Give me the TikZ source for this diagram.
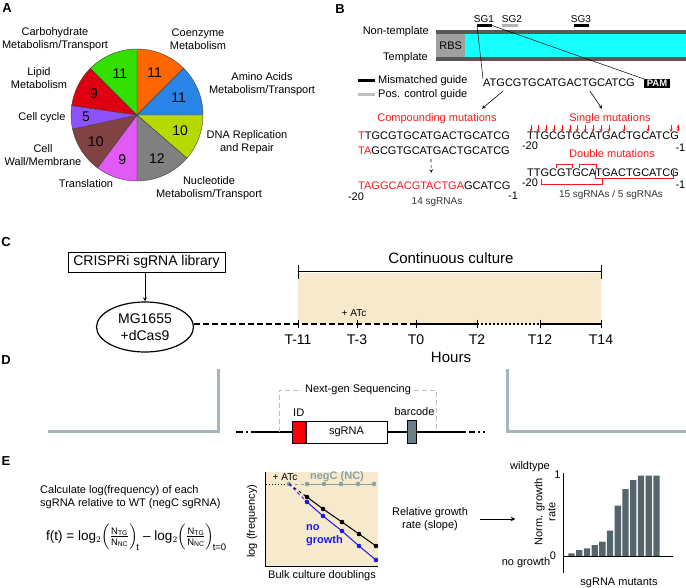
\documentclass[tikz,border=0pt]{standalone}
\usepackage{fontspec}
\usepackage{amsmath}
\setmainfont{Liberation Sans}
\usetikzlibrary{shapes.geometric, positioning}

\definecolor{pOrange}{RGB}{255,102,0}
\definecolor{pBlue}{RGB}{42,132,232}
\definecolor{pLime}{RGB}{182,218,0}
\definecolor{pGray}{RGB}{128,128,128}
\definecolor{pMagenta}{RGB}{226,90,246}
\definecolor{pBrown}{RGB}{128,66,66}
\definecolor{pPurple}{RGB}{140,82,255}
\definecolor{pRed}{RGB}{222,0,16}
\definecolor{pGreen}{RGB}{52,222,0}
\definecolor{cultureTan}{RGB}{247,234,204}
\definecolor{geneCyan}{RGB}{24,255,255}
\definecolor{strandGray}{RGB}{88,88,88}
\definecolor{rbsGray}{RGB}{160,160,160}
\definecolor{mutRed}{RGB}{245,25,25}
\definecolor{ncTeal}{RGB}{138,162,166}
\definecolor{lineBlue}{RGB}{25,25,235}
\definecolor{barSlate}{RGB}{86,101,107}
\definecolor{frameGray}{RGB}{165,182,188}
\definecolor{bcGray}{RGB}{110,128,135}

\begin{document}
\begin{tikzpicture}[x=1pt, y=-1pt, >=stealth,
    lbl/.style={inner sep=0pt, align=center, font=\fontsize{11}{13}\selectfont},
    sml/.style={inner sep=0pt, align=center, font=\fontsize{10}{12}\selectfont},
    big/.style={inner sep=0pt, align=center, font=\fontsize{14}{17}\selectfont},
    seq/.style={inner sep=0pt, anchor=west, font=\fontsize{11}{13}\selectfont},
    num/.style={inner sep=0pt, font=\fontsize{14}{16}\selectfont},
    panel/.style={inner sep=0pt, font=\bfseries\fontsize{13}{15}\selectfont},
    slice/.style={draw=black!75, line width=0.4pt},
    timeline/.style={line width=1.5pt},
    frame/.style={draw=frameGray, line width=3pt},
    construct/.style={line width=1.6pt}]
\useasboundingbox (0,0) rectangle (686,588);

% panel letters
\node[panel] (pA) at (7,8) {A};
\node[panel] (pB) at (340,9) {B};
\node[panel] (pC) at (6,242) {C};
\node[panel] (pD) at (6,360) {D};
\node[panel] (pE) at (6,461) {E};

% A: pie of gene categories
\begin{scope}[shift={(137,115)}, y=1pt]
  \filldraw[slice, fill=pOrange]  (0,0) -- (90:66) arc[start angle=90, end angle=45, radius=66] -- cycle;
  \filldraw[slice, fill=pBlue]    (0,0) -- (45:66) arc[start angle=45, end angle=0, radius=66] -- cycle;
  \filldraw[slice, fill=pLime]    (0,0) -- (0:66) arc[start angle=0, end angle=-40.91, radius=66] -- cycle;
  \filldraw[slice, fill=pGray]    (0,0) -- (-40.91:66) arc[start angle=-40.91, end angle=-90, radius=66] -- cycle;
  \filldraw[slice, fill=pMagenta] (0,0) -- (-90:66) arc[start angle=-90, end angle=-126.82, radius=66] -- cycle;
  \filldraw[slice, fill=pBrown]   (0,0) -- (-126.82:66) arc[start angle=-126.82, end angle=-167.73, radius=66] -- cycle;
  \filldraw[slice, fill=pPurple]  (0,0) -- (-167.73:66) arc[start angle=-167.73, end angle=-188.18, radius=66] -- cycle;
  \filldraw[slice, fill=pRed]     (0,0) -- (-188.18:66) arc[start angle=-188.18, end angle=-225, radius=66] -- cycle;
  \filldraw[slice, fill=pGreen]   (0,0) -- (-225:66) arc[start angle=-225, end angle=-270, radius=66] -- cycle;
  \node[num] (nCoenz) at (67.5:46) {11};
  \node[num] (nAmino) at (22.5:45) {11};
  \node[num] (nDNA) at (-20.45:46) {10};
  \node[num] (nNucl) at (-65.45:48) {12};
  \node[num] (nTransl) at (-108.41:47) {9};
  \node[num] (nWall) at (-147.27:49) {10};
  \node[num] (nCycle) at (-177.95:51) {5};
  \node[num] (nLipid) at (-206.59:48) {9};
  \node[num] (nCarb) at (-247.5:45) {11};
\end{scope}
\node[lbl] (carb) at (55,39) {Carbohydrate\\Metabolism/Transport};
\node[lbl] (coenz) at (198,39) {Coenzyme\\Metabolism};
\node[lbl] (amino) at (262,84) {Amino Acids\\Metabolism/Transport};
\node[lbl] (lipid) at (39,78) {Lipid\\Metabolism};
\node[lbl] (cycle) at (42,118) {Cell cycle};
\node[lbl] (wall) at (43,155) {Cell\\Wall/Membrane};
\node[lbl] (transl) at (86,184) {Translation};
\node[lbl] (nucl) at (209,188) {Nucleotide\\Metabolism/Transport};
\node[lbl] (dna) at (247,142) {DNA Replication\\and Repair};

% B: gene, guides and mutation designs
\fill[strandGray] (436,30) rectangle (686,61);
\fill[geneCyan] (436,34) rectangle (686,57);
\node[lbl, fill=rbsGray, minimum width=29, minimum height=23, anchor=north west] (rbs) at (436,34) {RBS};
\node[lbl, anchor=east] (nontempl) at (429,32) {Non-template};
\node[lbl, anchor=east] (templ) at (428,58) {Template};
\node[sml] (sg1) at (484,19) {SG1};
\node[sml] (sg2) at (512,19) {SG2};
\node[sml] (sg3) at (581,19) {SG3};
\coordinate (sg1L) at (477,25.5);
\coordinate (sg1R) at (492,25.5);
\draw[line width=2.7pt] (sg1L) -- (sg1R);
\draw[line width=2.7pt, rbsGray!80] (502,25.5) -- (518,25.5);
\draw[line width=2.7pt] (574,25.5) -- (589,25.5);
\draw[line width=3pt] (358,81) -- (375,81);
\node[lbl, anchor=west] (mism) at (378,81) {Mismatched guide};
\draw[line width=3pt, black!25] (358,95) -- (375,95);
\node[lbl, anchor=west] (posc) at (378,95) {Pos. control guide};
\node[seq] (guide) at (483,83) {ATGCGTGCATGACTGCATCG};
\node[fill=black, text=white, inner xsep=2.5pt, inner ysep=1pt, font=\bfseries\fontsize{9.5}{10}\selectfont] (pam) at (657,83.5) {PAM};
\draw[line width=0.5pt] (sg1L) -- (guide.north west);
\draw[line width=0.5pt] (sg1R) -- (pam.north west);
\node[lbl, text=mutRed] (comp) at (437,119) {Compounding mutations};
\node[lbl, text=mutRed] (single) at (610,119) {Single mutations};
\draw[->, line width=0.6pt] ([shift={(20,4)}]guide.south west) -- ([shift={(45,-5)}]comp.north);
\draw[->, line width=0.6pt] ([shift={(31,4)}]guide.south) -- ([shift={(-8,-5)}]single.north);

% compounding column
\node[seq] (cmp1) at (358,136) {\textcolor{mutRed}{T}TGCGTGCATGACTGCATCG};
\node[seq] (cmp2) at (358,151) {\textcolor{mutRed}{TA}GCGTGCATGACTGCATCG};
\node[seq] (cmp3) at (358,186) {\textcolor{mutRed}{TAGGCACGTACTGA}GCATCG};
\draw[->, dashed, line width=0.6pt] ([shift={(-3,4)}]cmp2.south) -- ([shift={(-3,-9)}]cmp3.north);
\node[lbl] (cmpS) at (356,197) {-20};
\node[lbl] (cmpE) at (513,196) {-1};
\node[sml, text=black!80] (cmpN) at (437,202) {14 sgRNAs};

% single / double column
\node[seq] (sng) at (527,136) {TTGCGTGCATGACTGCATCG};
\node[lbl] (sngS) at (530,146) {-20};
\node[lbl, anchor=east] (sngE) at (685.5,148) {-1};
\draw[->, mutRed, line width=0.5pt]
  (531,125) edge (531,132) (538,125) edge (538,132) (546,125) edge (546,132)
  (554,125) edge (554,132) (562,125) edge (562,132) (570,125) edge (570,132)
  (577,125) edge (577,132) (585,125) edge (585,132) (593,125) edge (593,132)
  (601,125) edge (601,132) (609,125) edge (609,132) (624,125) edge (624,132)
  (648,125) edge (648,132) (671,125) edge (671,132) (678,125) edge (678,132);
\node[lbl, text=mutRed] (dbl) at (612,154) {Double mutations};
\node[seq] (dbs) at (527,173) {TTGCGTGCATGACTGCATCG};
\node[lbl] (dbsS) at (530,183) {-20};
\node[lbl, anchor=east] (dbsE) at (685.5,185) {-1};
\draw[mutRed, line width=0.6pt] (556,168) -- (556,164) -- (572,164) -- (572,168);
\draw[mutRed, line width=0.6pt] (579,168) -- (579,164) -- (596,164) -- (596,168);
\draw[mutRed, line width=0.6pt] (541,179) -- (541,184) -- (602,184) -- (602,179);
\draw[mutRed, line width=0.6pt] (595,170) -- (595,178) -- (673,178) -- (673,170);
\node[sml, text=black!80] (dbsN) at (611,195) {15 sgRNAs / 5 sgRNAs};

% C: continuous culture timeline
\fill[cultureTan] (298,273) rectangle (601,324);
\node[big, font=\fontsize{15}{17}\selectfont] (cont) at (451,258) {Continuous culture};
\draw[line width=1pt] (298,272) -- (601,272);
\draw[line width=1pt] (298,265) -- (298,279);
\draw[line width=1pt] (601,265) -- (601,279);
\node[big, draw, line width=0.8pt, minimum width=157, minimum height=20] (lib) at (146.5,262) {CRISPRi sgRNA library};
\node[big, ellipse, draw, line width=1.2pt, minimum width=97, minimum height=50] (mg) at (145,327) {MG1655\\+dCas9};
\draw[->, line width=0.8pt] (lib.south -| mg.north) -- (mg.north);
\coordinate (t11) at (298,324);
\coordinate (t3) at (357,324);
\coordinate (t0) at (416,324);
\coordinate (t2) at (477,324);
\coordinate (t12) at (540,324);
\coordinate (t14) at (601,324);
\draw[timeline, dash pattern=on 6pt off 3pt] (mg.east |- t11) -- (t11) -- (t3) -- (t0);
\draw[timeline] (t0) -- (t2);
\draw[timeline, dash pattern=on 2pt off 2pt] (t2) -- (t12);
\draw[timeline] (t12) -- (t14);
\draw[line width=1pt] (298,320) -- (298,328) (357,320) -- (357,328) (416,320) -- (416,328)
  (477,320) -- (477,328) (540,320) -- (540,328) (601,320) -- (601,328);
\node[big] (lt11) at (298,340) {T-11};
\node[big] (lt3) at (357,340) {T-3};
\node[big] (lt0) at (416,340) {T0};
\node[big] (lt2) at (477,340) {T2};
\node[big] (lt12) at (540,340) {T12};
\node[big] (lt14) at (601,340) {T14};
\node[sml] (atcC) at (354,313) {+ ATc};
\node[big, font=\fontsize{15}{17}\selectfont] (hours) at (451,357) {Hours};

% D: sequenced construct
\draw[frame] (48,431) -| (218,369);
\draw[frame] (686,431) -| (507,369);
\node[lbl, draw, fill=white, line width=0.8pt, minimum width=81, minimum height=22] (sgrna) at (346.5,432) {sgRNA};
\node[draw, fill=red, line width=0.8pt, minimum width=13, minimum height=22, inner sep=0pt, anchor=east] (id) at (sgrna.west) {};
\node[draw, fill=bcGray, line width=0.6pt, minimum width=9, minimum height=23, inner sep=0pt] (bc) at (411.5,432) {};
\node[lbl, above=4pt of id] (idl) {ID};
\node[lbl, above=4pt of bc, xshift=3pt] (bcl) {barcode};
\coordinate (cl) at (252,432);
\coordinate (cr) at (458,432);
\draw[construct] (cl) -- (id);
\draw[construct] (sgrna) -- (bc) -- (cr);
\draw[construct, dash pattern=on 7pt off 3pt on 2pt off 3pt] (236,432) -- (cl);
\draw[construct, dash pattern=on 8pt off 3pt on 6pt off 3pt on 2pt off 3pt on 2pt off 9pt] (cr) -- (492,432);
\node[lbl, fill=white, inner xsep=3pt] (ngs) at (358,390) {Next-gen Sequencing};
\draw[black!25, line width=0.8pt, dash pattern=on 5pt off 3pt] (279,432) |- (ngs.west);
\draw[black!25, line width=0.8pt, dash pattern=on 5pt off 3pt] (ngs.east) -| (436,432);

% E: growth rate from sgRNA frequencies
\node[lbl, align=left, anchor=west] (calc) at (40,497) {Calculate log(frequency) of each\\sgRNA relative to WT (negC sgRNA)};
\node[inner sep=0pt, anchor=west, font=\fontsize{13.5}{15}\selectfont] (ft) at (46,537)
  {f(t) = log$_2\!\left(\frac{\text{N}_{\text{TG}}}{\text{N}_{\text{NC}}}\right)_{\!\text{t}}$ -- log$_2\!\left(\frac{\text{N}_{\text{TG}}}{\text{N}_{\text{NC}}}\right)_{\!\text{t=0}}$};
\fill[cultureTan] (265,472) rectangle (378,566);
\draw[line width=1pt] (265,472) |- (378,566);
\draw[line width=1pt, dotted] (266,484) -- (289,484);
\draw[ncTeal, line width=1pt, dashed] (289,484) -- (307,484);
\draw[ncTeal, line width=1pt] (307,484) -- (374,484);
\fill[ncTeal] (289,484) circle (2.3) (307,484) circle (2.3) (324,484) circle (2.3)
  (341,484) circle (2.3) (358,484) circle (2.3) (374,484) circle (2.3);
\draw[line width=1pt, dashed] (289,484) -- (307,497);
\draw[line width=1pt] (307,497) -- (323,509) -- (342,522) -- (359,534) -- (376,546);
\fill (307,497) circle (2.3) (323,509) circle (2.3) (342,522) circle (2.3) (359,534) circle (2.3) (376,546) circle (2.3);
\draw[lineBlue, line width=1pt, dashed] (289,484) -- (307,502);
\draw[lineBlue, line width=1pt] (307,502) -- (323,516) -- (342,531) -- (359,546) -- (376,560);
\fill[lineBlue] (307,502) circle (2.3) (323,516) circle (2.3) (342,531) circle (2.3) (359,546) circle (2.3) (376,560) circle (2.3);
\node[sml] (atcE) at (285,477) {+ ATc};
\node[lbl, text=ncTeal, font=\bfseries\fontsize{11}{13}\selectfont] (negc) at (337,477) {negC (NC)};
\node[lbl, text=lineBlue, align=left, anchor=west, font=\bfseries\fontsize{11}{13}\selectfont] (nogr) at (306,535) {no\\growth};
\node[lbl, rotate=90] (logf) at (252,521) {log (frequency)};
\node[lbl] (bulk) at (322,576) {Bulk culture doublings};
\node[lbl] (rel) at (430,519) {Relative growth\\rate (slope)};
\node[lbl, rotate=90] (norm) at (545,512) {Norm. growth\\rate};
\draw[->, line width=1pt] ([xshift=12pt]rel.east) -- ([xshift=-19pt]norm.north |- rel.east);
\fill[barSlate] (568.3,556) rectangle (574.6,553.3) (576.0,556) rectangle (582.3,550)
  (583.8,556) rectangle (590.1,548.3) (591.5,556) rectangle (597.8,545)
  (599.2,556) rectangle (605.5,541.7) (606.9,556) rectangle (613.2,530.7)
  (614.7,556) rectangle (621.0,505.7) (622.4,556) rectangle (628.7,489)
  (630.1,556) rectangle (636.4,480) (637.9,556) rectangle (644.2,475.5)
  (645.6,556) rectangle (651.9,475.5) (653.3,556) rectangle (659.6,475.5);
\draw[line width=1pt] (563,473) -- (563,573);
\draw[line width=1pt] (563,556) -- (673,556);
\node[lbl] (one) at (557.5,475) {1};
\node[lbl] (zero) at (553,556) {0};
\node[lbl] (wt) at (530,467) {wildtype};
\node[lbl] (nog) at (526,563) {no growth};
\node[lbl] (mut) at (619,583) {sgRNA mutants};
\end{tikzpicture}
\end{document}
